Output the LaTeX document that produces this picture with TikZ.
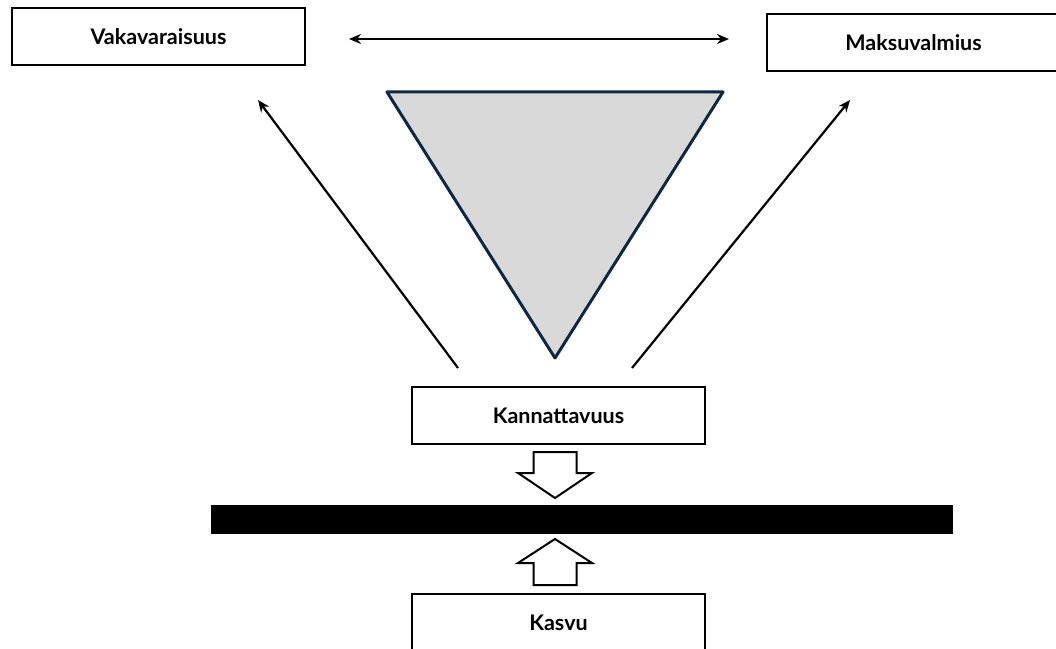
\documentclass[tikz,border=0pt]{standalone}
\usepackage{fontspec}
\setmainfont{Lato}
\usetikzlibrary{arrows.meta}

\definecolor{trifill}{HTML}{D9D9D9}
\definecolor{triline}{HTML}{0E2841}

\tikzset{
  box/.style={draw=black,line width=2.8pt,fill=white,minimum width=293pt,
    minimum height=57pt,inner sep=0pt,font=\fontsize{21.5}{24}\selectfont\bfseries},
  thinarrow/.style={line width=2.2pt,-{Stealth[length=12pt,width=10pt]}},
  blockarrow/.style={draw=black,line width=2pt,fill=white}
}

\begin{document}
\begin{tikzpicture}[x=1pt,y=1pt]
        \useasboundingbox (0,0) rectangle (1056,648) ;
        %\draw[very thin,gray,step=50] (0,0) grid (1056,648) ;
        \fill[black] (211,114) rectangle (953,143) ;
        \draw[triline,fill=trifill,line width=3pt,line join=round]
          (387,556) -- (723,556) -- (555,290) -- cycle ;
        \node[box] (vaka) at (158.5,611.5) {Vakavaraisuus} ;
        \node[box] (maksu) at (913.5,605.5) {Maksuvalmius} ;
        \node[box] (kann) at (558.5,232.5) {Kannattavuus} ;
        \node[box] (kasvu) at (558.5,25.5) {Kasvu} ;
        % nuolet
        \coordinate (dl) at (349,609) ;
        \coordinate (dr) at (729,609) ;
        \draw[thinarrow,{Stealth[length=12pt,width=10pt]}-{Stealth[length=12pt,width=10pt]}] (dl) -- (dr) ;
        \coordinate (l0) at (458,280) ;
        \coordinate (l1) at (258,548) ;
        \draw[thinarrow] (l0) -- (l1) ;
        \coordinate (r0) at (632,280) ;
        \coordinate (r1) at (850,548) ;
        \draw[thinarrow] (r0) -- (r1) ;
        % paksut nuolet
        \draw[blockarrow] (533.5,196) -- (576.5,196) -- (576.5,175) -- (592,175)
          -- (555,150) -- (518,175) -- (533.5,175) -- cycle ;
        \draw[blockarrow] (533.5,63) -- (576.5,63) -- (576.5,85) -- (592,85)
          -- (555,109) -- (518,85) -- (533.5,85) -- cycle ;
      \end{tikzpicture}
\end{document}
